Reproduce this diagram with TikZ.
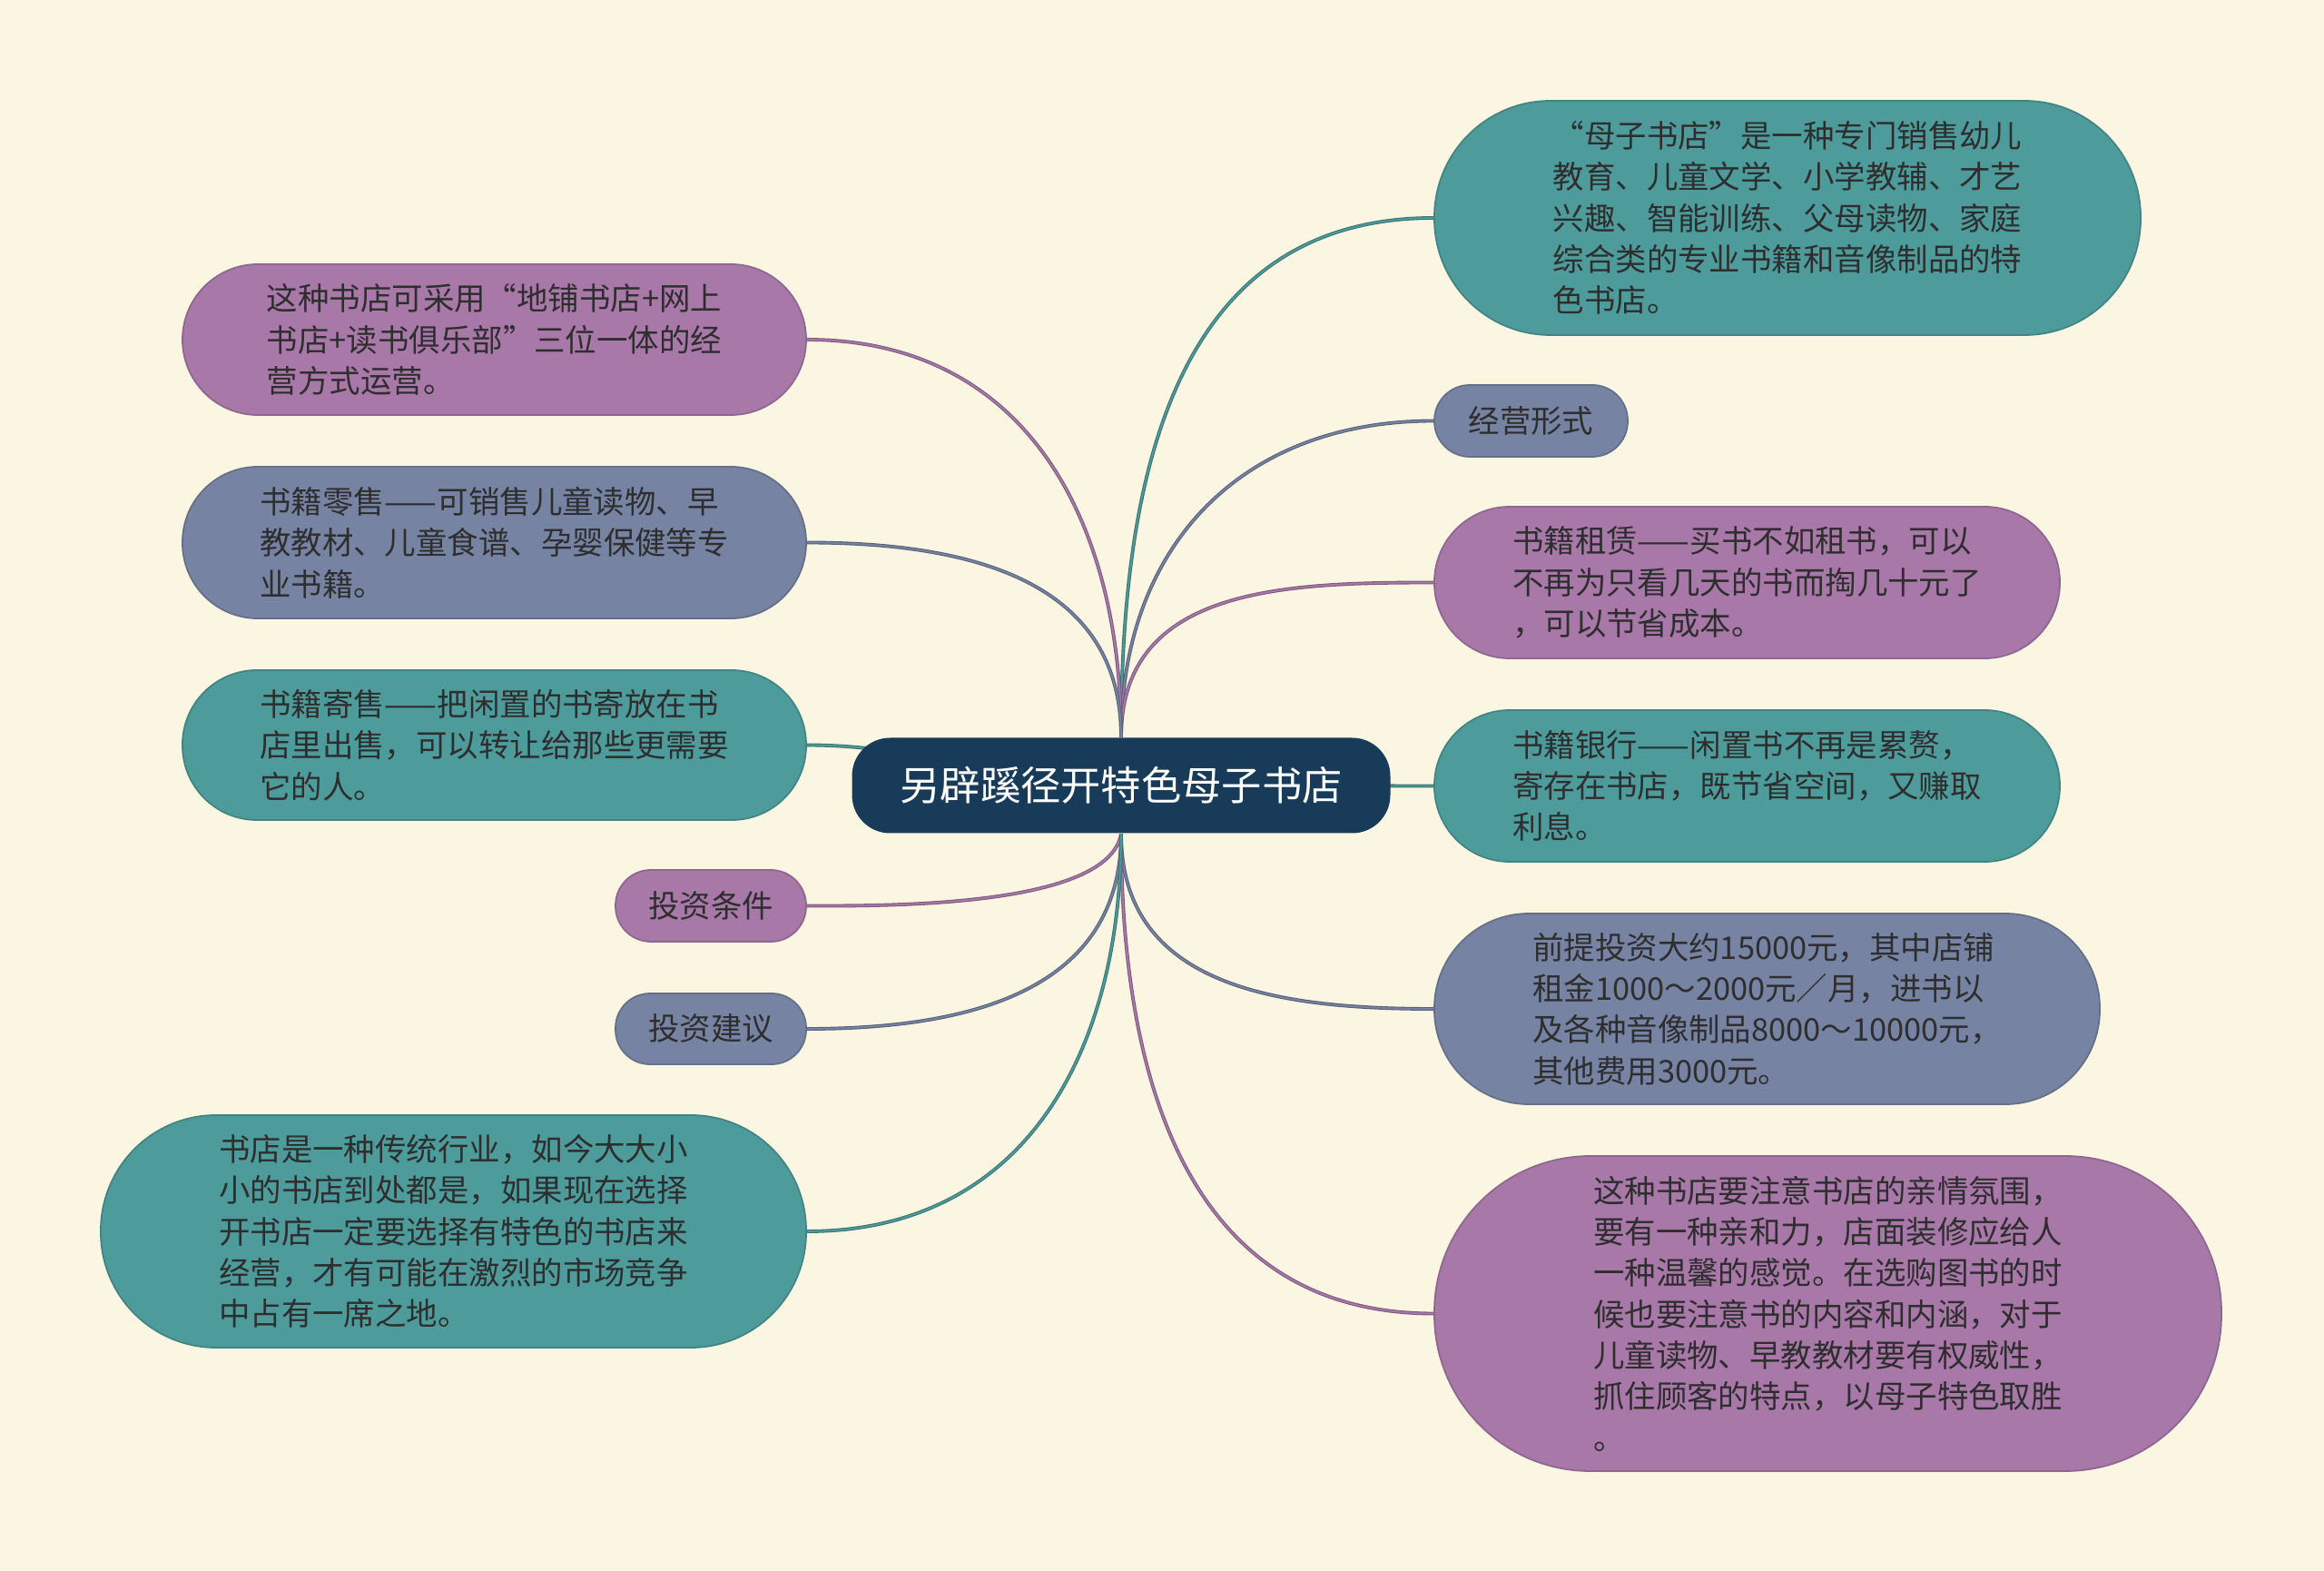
\documentclass[tikz,border=0pt]{standalone}
\usepackage{fontspec}
\setmainfont{Noto Sans CJK SC}
\definecolor{bgcream}{HTML}{FAF6E2}
\definecolor{tealc}{HTML}{4E9B9B}
\definecolor{purplec}{HTML}{A878A8}
\definecolor{slatec}{HTML}{7683A2}
\definecolor{rootc}{HTML}{173B58}
\definecolor{inkc}{HTML}{2E2E2E}
\pgfdeclarelayer{bg}
\pgfdeclarelayer{edges}
\pgfsetlayers{bg,edges,main}

\begin{document}
\begin{tikzpicture}[
  bnode/.style={inner sep=0pt,align=left,text=inkc,line width=0.5pt,font=\fontsize{9.8pt}{12.9pt}\selectfont},
  tealbox/.style={bnode,fill=tealc,draw=tealc!85!black},
  purplebox/.style={bnode,fill=purplec,draw=purplec!85!black},
  slatebox/.style={bnode,fill=slatec,draw=slatec!85!black},
  pill/.style n args={3}{minimum width=#1cm,minimum height=#2cm,rounded corners=#3cm},
  rootbox/.style={inner sep=0pt,fill=rootc,text=white,minimum width=5.93cm,minimum height=1.05cm,rounded corners=0.42cm,font=\fontsize{12.6pt}{15pt}\selectfont},
  link/.style={line width=0.3pt,draw=#1!75!black,double=#1,double distance=0.5pt}
]
\useasboundingbox (0,0) rectangle (25.6,-17.3);
\begin{pgfonlayer}{bg}
\fill[bgcream] (0,0) rectangle (25.6,-17.3);
\end{pgfonlayer}

\node[rootbox] (root) at (12.35,-8.65) {另辟蹊径开特色母子书店};

\node[tealbox,pill={7.78}{2.58}{1.28}] (r1) at (19.69,-2.40) {“母子书店”是一种专门销售幼儿\\教育、儿童文学、小学教辅、才艺\\兴趣、智能训练、父母读物、家庭\\综合类的专业书籍和音像制品的特\\色书店。};
\node[slatebox,pill={2.13}{0.79}{0.39}] (r2) at (16.865,-4.635) {经营形式};
\node[purplebox,pill={6.89}{1.67}{0.83}] (r3) at (19.245,-6.415) {书籍租赁——买书不如租书，可以\\不再为只看几天的书而掏几十元了\\，可以节省成本。};
\node[tealbox,pill={6.89}{1.67}{0.83}] (r4) at (19.245,-8.655) {书籍银行——闲置书不再是累赘，\\寄存在书店，既节省空间，又赚取\\利息。};
\node[slatebox,pill={7.33}{2.10}{1.04}] (r5) at (19.465,-11.11) {前提投资大约15000元，其中店铺\\租金1000～2000元／月，进书以\\及各种音像制品8000～10000元，\\其他费用3000元。};
\node[purplebox,pill={8.67}{3.47}{1.72}] (r6) at (20.135,-14.465) {这种书店要注意书店的亲情氛围，\\要有一种亲和力，店面装修应给人\\一种温馨的感觉。在选购图书的时\\候也要注意书的内容和内涵，对于\\儿童读物、早教教材要有权威性，\\抓住顾客的特点，以母子特色取胜\\。};

\node[purplebox,pill={6.87}{1.66}{0.83}] (l1) at (5.445,-3.74) {这种书店可采用“地铺书店+网上\\书店+读书俱乐部”三位一体的经\\营方式运营。};
\node[slatebox,pill={6.87}{1.67}{0.83}] (l2) at (5.445,-5.975) {书籍零售——可销售儿童读物、早\\教教材、儿童食谱、孕婴保健等专\\业书籍。};
\node[tealbox,pill={6.87}{1.65}{0.82}] (l3) at (5.445,-8.205) {书籍寄售——把闲置的书寄放在书\\店里出售，可以转让给那些更需要\\它的人。};
\node[purplebox,pill={2.10}{0.79}{0.39}] (l4) at (7.83,-9.975) {投资条件};
\node[slatebox,pill={2.10}{0.78}{0.38}] (l5) at (7.83,-11.33) {投资建议};
\node[tealbox,pill={7.77}{2.56}{1.27}] (l6) at (4.995,-13.56) {书店是一种传统行业，如今大大小\\小的书店到处都是，如果现在选择\\开书店一定要选择有特色的书店来\\经营，才有可能在激烈的市场竞争\\中占有一席之地。};

\begin{pgfonlayer}{edges}
\draw[link=tealc] (root.north) to[out=90,in=180,looseness=1.1] (r1.west);
\draw[link=slatec] (root.north) to[out=90,in=180,looseness=1.1] (r2.west);
\draw[link=purplec] (root.north) to[out=90,in=180,looseness=1.1] (r3.west);
\draw[link=tealc] (root.center) -- (r4.west);
\draw[link=slatec] (root.south) to[out=-90,in=180,looseness=1.1] (r5.west);
\draw[link=purplec] (root.south) to[out=-90,in=180,looseness=1.1] (r6.west);
\draw[link=purplec] (root.north) to[out=90,in=0,looseness=1.1] (l1.east);
\draw[link=slatec] (root.north) to[out=90,in=0,looseness=1.1] (l2.east);
\draw[link=tealc] (root.center) to[out=180,in=0] (l3.east);
\draw[link=purplec] (root.south) to[out=-100,in=0,looseness=0.6] (l4.east);
\draw[link=slatec] (root.south) to[out=-90,in=0,looseness=1.1] (l5.east);
\draw[link=tealc] (root.south) to[out=-90,in=0,looseness=1.1] (l6.east);
\end{pgfonlayer}
\end{tikzpicture}
\end{document}
